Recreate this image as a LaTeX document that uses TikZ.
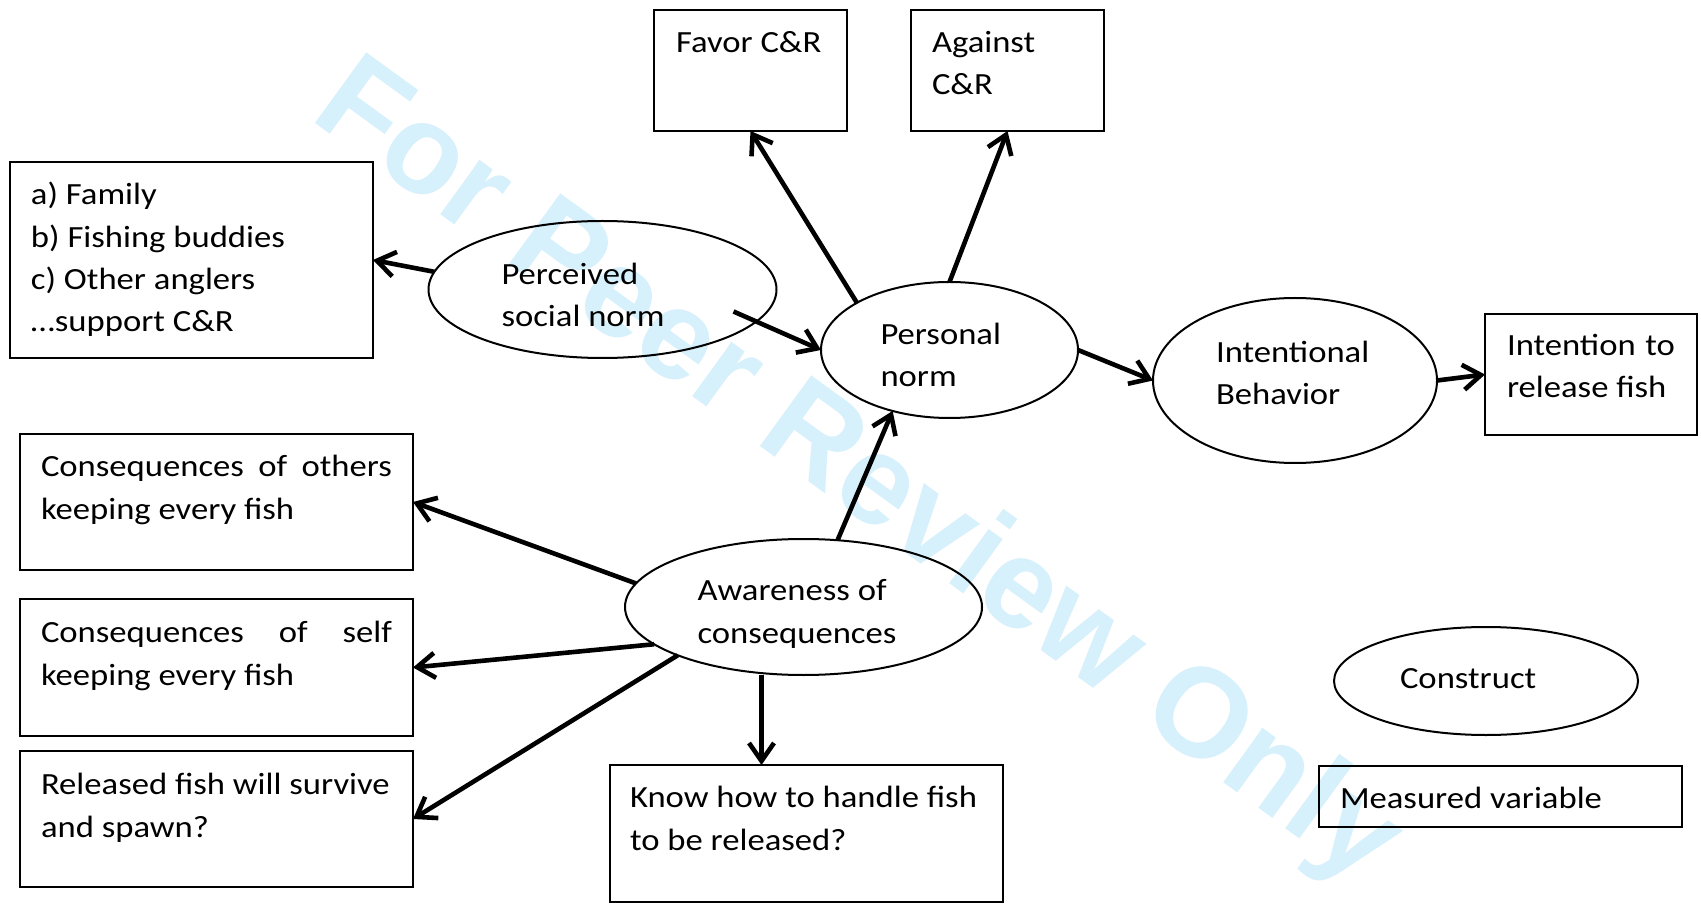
\documentclass[tikz,border=0pt]{standalone}
\usepackage{fontspec}
\setmainfont{Carlito}[FakeStretch=1.125]
\newfontfamily\wmfont{Liberation Sans}
\usetikzlibrary{shapes.geometric,arrows.meta,calc}
\definecolor{wmblue}{RGB}{214,240,252}
\tikzset{
  box/.style={draw=black,line width=1.2pt,rectangle,inner sep=0pt,outer sep=0pt},
  oval/.style={draw=black,line width=1pt,ellipse,inner sep=0pt,outer sep=0pt},
  txt/.style={inner sep=0pt,outer sep=0pt,anchor=base west,align=left,
    font=\fontsize{15.4}{21.2}\selectfont},
  arr/.style={line width=2.3pt,-{Straight Barb[length=9pt,width=12.5pt]}},
  wm/.style={inner sep=0pt,text=wmblue,font=\wmfont\bfseries\fontsize{63.5}{70}\selectfont}
}
\begin{document}
\begin{tikzpicture}[x=0.5pt,y=-0.5pt]
\useasboundingbox (0,0) rectangle (1701,908);
\fill[white] (0,0) rectangle (1701,908);
% watermark
\node[wm,rotate=-36,anchor=base west] (wmark) at (308,118) {For Peer Review Only};

% boxes
\node[box,minimum width=96.5pt,minimum height=60.5pt] (fav) at (750.5,70.5) {};
\node[box,minimum width=96.5pt,minimum height=60.5pt] (ag) at (1007.5,70.5) {};
\node[box,minimum width=181.5pt,minimum height=98pt] (fam) at (191.5,260) {};
\node[box,minimum width=106pt,minimum height=60.5pt] (it) at (1591,374.5) {};
\node[box,minimum width=196.5pt,minimum height=68pt] (co) at (216.5,502) {};
\node[box,minimum width=196.5pt,minimum height=68.5pt] (cs) at (216.5,667.5) {};
\node[box,minimum width=196.5pt,minimum height=68pt] (rf) at (216.5,819) {};
\node[box,minimum width=196.5pt,minimum height=68.5pt] (kh) at (806.5,833.5) {};
\node[box,minimum width=181.5pt,minimum height=30.5pt] (mv) at (1500.5,796.5) {};

% ellipses
\node[oval,minimum width=174pt,minimum height=68.5pt] (ps) at (602.5,289.5) {};
\node[oval,minimum width=128.5pt,minimum height=68pt] (pn) at (949.5,350) {};
\node[oval,minimum width=142pt,minimum height=82.5pt] (ib) at (1295,380.5) {};
\node[oval,minimum width=178.5pt,minimum height=68pt] (aw) at (803.5,607) {};
\node[oval,minimum width=152pt,minimum height=54pt] (cn) at (1486,681) {};

% texts (anchored at the baseline of their last line)
\node[txt] (tfav) at ($(fav.north west)+(22,43)$) {Favor C\&R};
\node[txt] (tag) at ($(ag.north west)+(21,85)$) {Against\\C\&R};
\node[txt] (tfam) at ($(fam.north west)+(21,170)$) {a) Family\\b) Fishing buddies\\c) Other anglers\\\ldots support C\&R};
\node[txt] (tit) at ($(it.north west)+(22,84)$) {\hbox to 84pt{Intention\hfill to}\\release fish};
\node[txt] (tco) at ($(co.north west)+(21,85)$) {\hbox to 175.5pt{Consequences\hfill of\hfill others}\\keeping every fish};
\node[txt] (tcs) at ($(cs.north west)+(21,86)$) {\hbox to 175.5pt{Consequences\hfill of\hfill self}\\keeping every fish};
\node[txt] (trf) at ($(rf.north west)+(21,86)$) {Released fish will survive\\and spawn?};
\node[txt] (tkh) at ($(kh.north west)+(20,85)$) {Know how to handle fish\\to be released?};
\node[txt] (tmv) at ($(mv.north west)+(21,42)$) {Measured variable};

\node[txt] (tps) at ($(ps.center)+(-101,37.5)$) {Perceived\\social norm};
\node[txt] (tpn) at ($(pn.center)+(-69,37)$) {Personal\\norm};
\node[txt] (tib) at ($(ib.center)+(-79,24.5)$) {Intentional\\Behavior};
\node[txt] (taw) at ($(aw.center)+(-106,36)$) {Awareness of\\consequences};
\node[txt] (tcn) at ($(cn.center)+(-86,7)$) {Construct};

% arrows
\draw[arr] (ps.174) -- (fam.east);
\draw[arr] ($(ps.center)+(131,22)$) -- (pn.west);
\draw[arr] (pn.153) -- (fav.south);
\draw[arr] (pn.north) -- (ag.south);
\draw[arr] (pn.east) -- (ib.west);
\draw[arr] (ib.east) -- (it.west);
\draw[arr] (aw.63) -- (pn.227);
\draw[arr] (aw.172) -- (co.east);
\draw[arr] (aw.194) -- (cs.east);
\draw[arr] (aw.201) -- (rf.east);
\draw[arr] ([xshift=-21pt]aw.south) -- ([xshift=-21pt]aw.south |- kh.north);
\end{tikzpicture}
\end{document}
